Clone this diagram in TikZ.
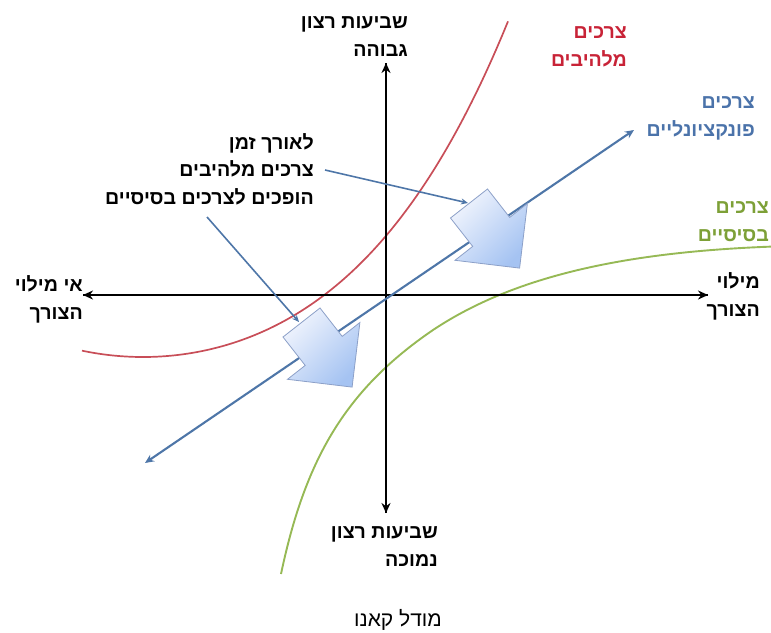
\documentclass[tikz,border=0pt]{standalone}
\usepackage{fontspec}
\TeXXeTstate=1
\newfontfamily\heb[Script=Hebrew]{Liberation Sans}
\newfontfamily\hebb[Script=Hebrew]{Liberation Sans Bold}
\usetikzlibrary{arrows.meta}
\definecolor{redcurve}{RGB}{200,78,88}
\definecolor{greencurve}{RGB}{150,185,85}
\definecolor{blueline}{RGB}{78,118,168}
\definecolor{redtext}{RGB}{200,35,55}
\definecolor{bluetext}{RGB}{75,115,170}
\definecolor{greentext}{RGB}{125,160,55}
\definecolor{arrlight}{RGB}{240,244,253}
\definecolor{arrdark}{RGB}{165,195,242}
\definecolor{arredge}{RGB}{140,160,200}
\begin{document}
\begin{tikzpicture}[x=1pt,y=-1pt,
  lbl/.style={font=\hebb\fontsize{19.6}{27.5}\selectfont, align=right, inner sep=0pt, anchor=base east},
  axis/.style={line width=2.6pt, -{Stealth[length=10pt,width=9pt]}},
  pointer/.style={blueline, line width=1.6pt, -{Stealth[length=7pt,width=6pt]}},
  bigarrow/.style={draw=arredge, line width=0.8pt, top color=arrlight, bottom color=arrdark, shading angle=45}]
\useasboundingbox (0,0) rectangle (771,632);
\begin{scope}
\clip (0,0) rectangle (771,632);
% curves
\draw[redcurve, line width=1.7pt] plot[domain=82:508, samples=80, smooth] (\x, {357 - 16.8*((\x-143)/100)^2 - 0.63*((\x-143)/100)^4});
\draw[greencurve, line width=1.9pt] (281,574) .. controls (305,460) and (345,390) .. (433,330) .. controls (520,272) and (640,250) .. (790,246);
% axes
\coordinate (xl) at (83,295);
\coordinate (xr) at (708,295);
\coordinate (yt) at (386,63);
\coordinate (yb) at (386,513);
\draw[axis] (xr) -- (xl);
\draw[axis] (xl) -- (xr);
\draw[axis] (yb) -- (yt);
\draw[axis] (yt) -- (yb);
% functional line
\coordinate (fl) at (145,463);
\coordinate (fr) at (634,130);
\draw[blueline, line width=2.1pt, {Stealth[length=9pt,width=8pt]}-{Stealth[length=9pt,width=8pt]}] (fl) -- (fr);
% block arrows
\foreach \cx/\cy in {301.5/322.5, 469/203.5}{
  \path[bigarrow, shift={(\cx,\cy)}] (18.5,-14.5) -- (40.7,13.9) -- (58.4,0) -- (50.6,64.6) -- (-14,56.8) -- (3.7,42.9) -- (-18.5,14.5) -- cycle;
}
\coordinate (upA) at (468,203);
\coordinate (lowA) at (299,322);
% labels
\node[lbl] (top) at (408,56) {\beginR שביעות רצון\endR\\\beginR גבוהה\endR};
\node[lbl, text=redtext] (exc) at (627,66) {\beginR צרכים\endR\\\beginR מלהיבים\endR};
\node[lbl, text=bluetext] (fun) at (755,136) {\beginR צרכים\endR\\\beginR פונקציונליים\endR};
\node[lbl, text=greentext] (bas) at (769,241) {\beginR צרכים\endR\\\beginR בסיסיים\endR};
\node[lbl] (left) at (83,319) {\beginR אי מילוי\endR\\\beginR הצורך\endR};
\node[lbl] (right) at (760,316) {\beginR מילוי\endR\\\beginR הצורך\endR};
\node[lbl] (bottom) at (438,566) {\beginR שביעות רצון\endR\\\beginR נמוכה\endR};
\node[lbl] (mid) at (314,204) {\beginR לאורך זמן\endR\\\beginR צרכים מלהיבים\endR\\\beginR הופכים לצרכים בסיסיים\endR};
\node[font=\heb\fontsize{21}{23}\selectfont, inner sep=0pt] (cap) at (398,620) {\beginR מודל קאנו\endR};
% pointers
\coordinate (p1) at (325,170);
\coordinate (p2) at (207,217);
\draw[pointer] (p1) -- (upA);
\draw[pointer] (p2) -- (lowA);
\end{scope}
\end{tikzpicture}
\end{document}
